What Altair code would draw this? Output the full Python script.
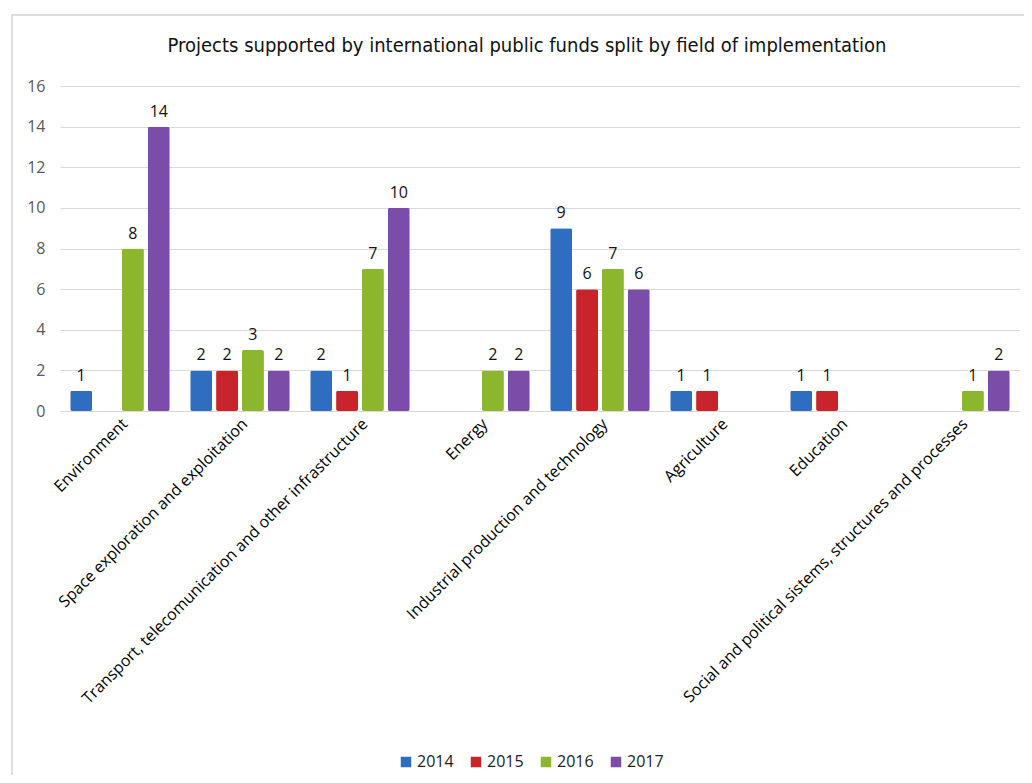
import altair as alt
import pandas as pd

categories = [
    "Environment",
    "Space exploration and exploitation",
    "Transport, telecomunication and other infrastructure",
    "Energy",
    "Industrial production and technology",
    "Agriculture",
    "Education",
    "Social and political sistems, structures and processes",
]
years = ["2014", "2015", "2016", "2017"]
v2014 = [1, 2, 2, 0, 9, 1, 1, 0]
v2015 = [0, 2, 1, 0, 6, 1, 1, 0]
v2016 = [8, 3, 7, 2, 7, 0, 0, 1]
v2017 = [14, 2, 10, 2, 6, 0, 0, 2]
colors = ["#2F6DC0", "#C8242B", "#8CB62E", "#7B4DA8"]

rows = []
for yr, vals in zip(years, [v2014, v2015, v2016, v2017]):
    for c, v in zip(categories, vals):
        if v > 0:
            rows.append({"field": c, "year": yr, "value": v})
df = pd.DataFrame(rows)

FONT = "Open Sans, Noto Sans, sans-serif"

x = alt.X("field:N", sort=categories, title=None,
          scale=alt.Scale(paddingInner=0.17, paddingOuter=0.085),
          axis=alt.Axis(labelAngle=-45, labelAlign="right", labelBaseline="middle",
                        labelFontSize=16, labelColor="#000000", labelFont=FONT,
                        labelLimit=700, ticks=False, domain=False, labelPadding=10,
                        labelOffset=5))
xo = alt.XOffset("year:N", scale=alt.Scale(domain=years, paddingInner=0.15))
y = alt.Y("value:Q", title=None,
          scale=alt.Scale(domain=[0, 16]),
          axis=alt.Axis(values=list(range(0, 17, 2)), labelFontSize=16, labelColor="#595959",
                        labelFont=FONT, ticks=False, domain=False, gridColor="#d9d9d9",
                        gridWidth=1.2, labelPadding=15))
color = alt.Color("year:N", scale=alt.Scale(domain=years, range=colors),
                  legend=alt.Legend(title=None, orient="none", direction="horizontal",
                                    legendX=338, legendY=668, symbolType="square",
                                    symbolSize=110, symbolStrokeWidth=0, labelFontSize=16,
                                    labelFont=FONT, labelColor="#222222", columnPadding=14,
                                    labelOffset=3))

frame = alt.Chart(pd.DataFrame({"f": [0]})).mark_rect(
    fill=None, stroke="#d4d4d4", strokeWidth=1.5).encode(
    x=alt.value(-48), x2=alt.value(972), y=alt.value(-71), y2=alt.value(720))

bars = alt.Chart(df).mark_bar(cornerRadius=2, stroke=None).encode(
    x=x, xOffset=xo, y=y, color=color)
labels = alt.Chart(df).mark_text(dy=-15, fontSize=16, font=FONT, color="#111111").encode(
    x=x, xOffset=xo, y=y, text="value:Q")

chart = alt.layer(frame, bars, labels).properties(
    width=960, height=325,
    autosize=alt.AutoSizeParams(type="none"),
    padding={"left": 52, "top": 78, "right": 4, "bottom": 364},
    title=alt.TitleParams(
        "Projects supported by international public funds split by field of implementation",
        font="Liberation Sans Narrow, DejaVu Sans Condensed, sans-serif",
        fontSize=20, fontWeight="normal", color="#111111", anchor="middle",
        dx=-13, offset=-42),
).configure_view(stroke=None)

chart.save("out.html", embed_options={"renderer": "svg", "actions": False})
